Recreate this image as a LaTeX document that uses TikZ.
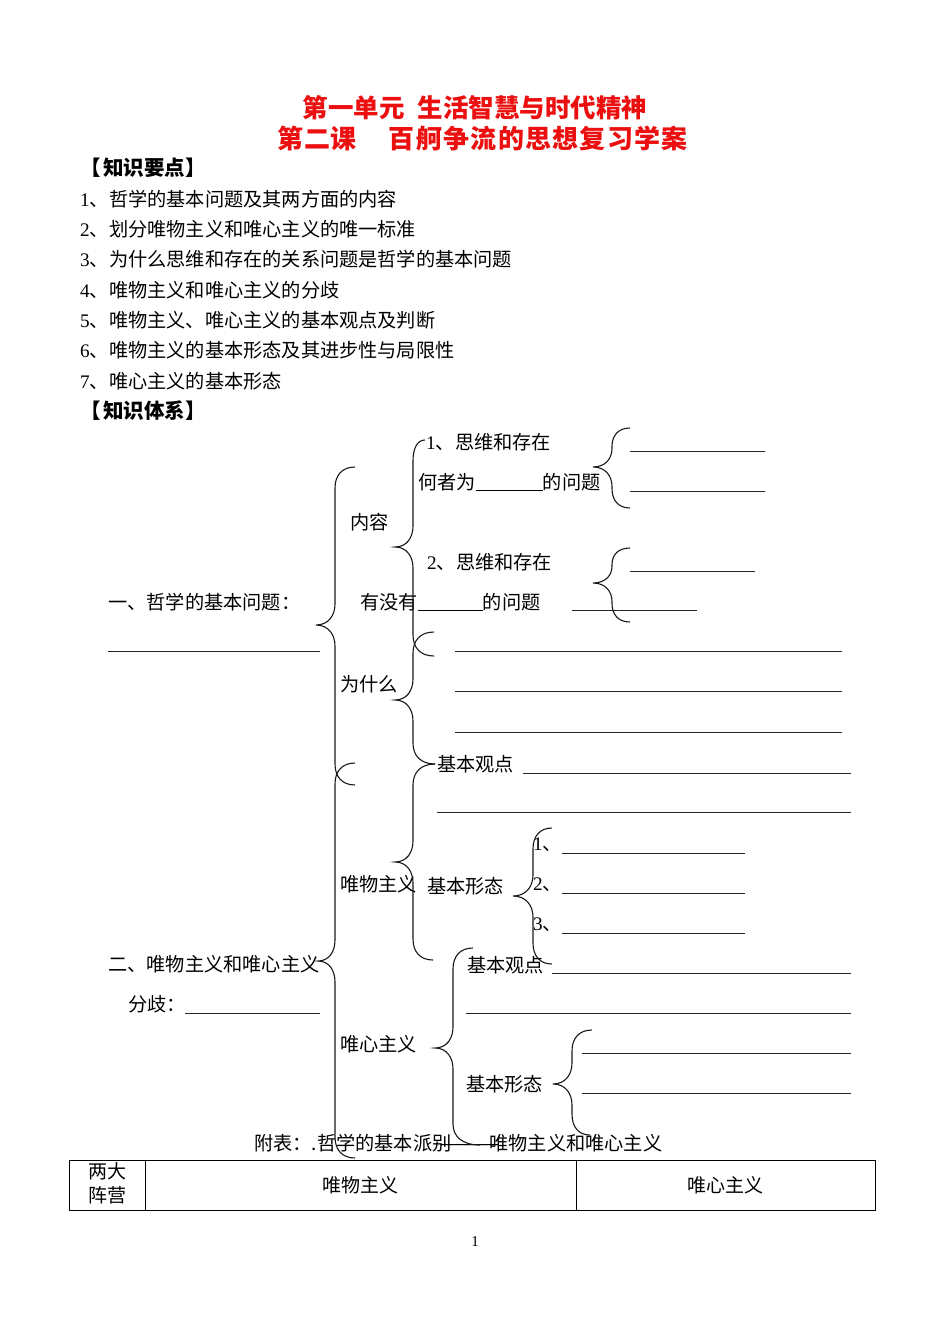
\documentclass[tikz,border=0pt]{standalone}
\usepackage{graphicx}
\usepackage{fontspec}
\setmainfont{Liberation Serif}
\newfontfamily\cjk{Noto Sans CJK SC}
\definecolor{titlered}{RGB}{235,15,15}
\newcommand\dg[1]{{\rmfamily #1}}
\newcommand\cbx[2]{\makebox[#1]{#2}}
% #1 top end x, #2 bottom end x, #3 vertical x, #4 tip x, #5 top y, #6 tip y, #7 bottom y
\newcommand\wbrace[7]{%
 \pgfmathsetmacro\ra{min(21,(#6-#5)/2.1)}%
 \pgfmathsetmacro\rb{min(21,(#7-#6)/2.1)}%
 \draw[brc] (#1,#5) .. controls ({#3+0.35*(#1-#3)},#5) and (#3,{#5+0.4*\ra}) .. (#3,{#5+\ra})
   -- (#3,{#6-\ra}) .. controls (#3,{#6-0.45*\ra}) and ({#3-0.35*(#3-#4)},#6) .. (#4,#6)
   .. controls ({#3-0.35*(#3-#4)},#6) and (#3,{#6+0.45*\rb}) .. (#3,{#6+\rb})
   -- (#3,{#7-\rb}) .. controls (#3,{#7-0.4*\rb}) and ({#3+0.35*(#2-#3)},#7) .. (#2,#7);}
\newcommand\hdtext[1]{\makebox[23pt][r]{【\hspace{2pt}}#1\makebox[20pt][l]{】}}
\tikzset{
  txt/.style={anchor=west, inner sep=0pt, font=\cjk\fontsize{19.2}{23}\selectfont},
  ctxt/.style={inner sep=0pt, font=\cjk\fontsize{19}{23}\selectfont},
  hd/.style={anchor=west, inner sep=0pt, font=\cjk\bfseries\fontsize{20.5}{24}\selectfont},
  ttl/.style={inner sep=0pt, text=titlered, font=\cjk\bfseries\fontsize{25.5}{30}\selectfont},
  ttlb/.style={anchor=west, inner sep=0pt, text=titlered, font=\cjk\bfseries\fontsize{26}{31}\selectfont},
  ln/.style={line width=0.9pt, black!85},
  brc/.style={line width=1.1pt, black!90},
}
\begin{document}
\begin{tikzpicture}[x=1pt,y=-1pt]
\fill[white] (0,0) rectangle (950,1342);
\useasboundingbox (0,0) rectangle (950,1342);

% titles
\node[ttl] (title1) at (475,108) {第一单元\hspace{0.5em}生活智慧与时代精神};
\node[ttlb] (title2a) at (277,138) {\cbx{26.7pt}{第}\cbx{26.7pt}{二}\cbx{26.7pt}{课}};
\node[ttlb] (title2b) at (388,138) {\cbx{27.3pt}{百}\cbx{27.3pt}{舸}\cbx{27.3pt}{争}\cbx{27.3pt}{流}\cbx{27.3pt}{的}\cbx{27.3pt}{思}\cbx{27.3pt}{想}\cbx{27.3pt}{复}\cbx{27.3pt}{习}\cbx{27.3pt}{学}\cbx{27.3pt}{案}};

% knowledge points
\node[hd] (h1) at (80,168) {\hdtext{知识要点}};
\node[txt] (k1) at (80,199) {\dg{1}、哲学的基本问题及其两方面的内容};
\node[txt] (k2) at (80,229) {\dg{2}、划分唯物主义和唯心主义的唯一标准};
\node[txt] (k3) at (80,259) {\dg{3}、为什么思维和存在的关系问题是哲学的基本问题};
\node[txt] (k4) at (80,290) {\dg{4}、唯物主义和唯心主义的分歧};
\node[txt] (k5) at (80,320) {\dg{5}、唯物主义、唯心主义的基本观点及判断};
\node[txt] (k6) at (80,350) {\dg{6}、唯物主义的基本形态及其进步性与局限性};
\node[txt] (k7) at (80,381) {\dg{7}、唯心主义的基本形态};
\node[hd] (h2) at (80,411) {\hdtext{知识体系}};

% diagram texts
\node[txt] (s1) at (426,442) {\dg{1}、思维和存在};
\node[txt] (s1b) at (418,482) {何者为\underline{\hspace{67pt}}的问题};
\node[txt] (nr) at (350,522) {内容};
\node[txt] (s2) at (427,562) {\dg{2}、思维和存在};
\node[txt] (s2b) at (360,602) {有没有\underline{\hspace{65pt}}的问题};
\node[txt] (q1) at (108,602) {一、哲学的基本问题：};
\node[txt] (wsm) at (340,684) {为什么};
\node[txt] (wgd) at (437,764) {基本观点};
\node[txt] (wwz) at (340,884) {唯物主义};
\node[txt] (wxt) at (427,886) {基本形态};
\node[txt] (n1) at (533,845) {\dg{1}、};
\node[txt] (n2) at (533,885) {\dg{2}、};
\node[txt] (n3) at (533,925) {\dg{3}、};
\node[txt] (q2) at (108,964) {二、唯物主义和唯心主义};
\node[txt] (fq) at (128,1004) {分歧：};
\node[txt] (xgd) at (467,965) {基本观点};
\node[txt] (wxz) at (340,1044) {唯心主义};
\node[txt] (xxt) at (466,1084) {基本形态};
\node[txt] (fb) at (254,1143) {附表：.哲学的基本派别\cbx{38pt}{\scalebox{1.9}[1]{——}}唯物主义和唯心主义};

% blank lines
\draw[ln] (630,451) -- (765,451);
\draw[ln] (630,491) -- (765,491);
\draw[ln] (630,571) -- (755,571);
\draw[ln] (572,610) -- (697,610);
\draw[ln] (108,651) -- (320,651);
\draw[ln] (455,651) -- (842,651);
\draw[ln] (455,691) -- (842,691);
\draw[ln] (455,732) -- (842,732);
\draw[ln] (523,773) -- (851,773);
\draw[ln] (437,812) -- (851,812);
\draw[ln] (562,853) -- (745,853);
\draw[ln] (562,893) -- (745,893);
\draw[ln] (562,933) -- (745,933);
\draw[ln] (185,1013) -- (320,1013);
\draw[ln] (552,973) -- (851,973);
\draw[ln] (466,1013) -- (851,1013);
\draw[ln] (582,1053) -- (851,1053);
\draw[ln] (582,1093) -- (851,1093);

% braces
\wbrace{355}{355}{335}{316}{467}{625}{785}
\wbrace{355}{355}{335}{318}{763}{961}{1158}
\wbrace{425}{434}{413}{395}{440}{547}{656}
\wbrace{434}{435}{413}{395}{632}{700}{764}
\wbrace{435}{433}{413}{395}{764}{862}{960}
\wbrace{473}{480}{453}{435}{948}{1048}{1145}
\wbrace{630}{630}{612}{593}{428}{467}{508}
\wbrace{630}{630}{612}{593}{548}{583}{622}
\wbrace{552}{552}{533}{513}{828}{896}{964}
\wbrace{592}{590}{572}{553}{1030}{1084}{1135}

% table
\draw[line width=1pt] (69,1160) rectangle (875,1210);
\draw[line width=1pt] (145,1160) -- (145,1210);
\draw[line width=1pt] (576,1160) -- (576,1210);
\node[ctxt] (c1a) at (107,1171) {两大};
\node[ctxt] (c1b) at (107,1195) {阵营};
\node[ctxt] (c2) at (360,1185) {唯物主义};
\node[ctxt] (c3) at (725,1185) {唯心主义};

\node[inner sep=0pt, font=\rmfamily\fontsize{15}{18}\selectfont] (pg) at (475,1242) {1};
\end{tikzpicture}
\end{document}
